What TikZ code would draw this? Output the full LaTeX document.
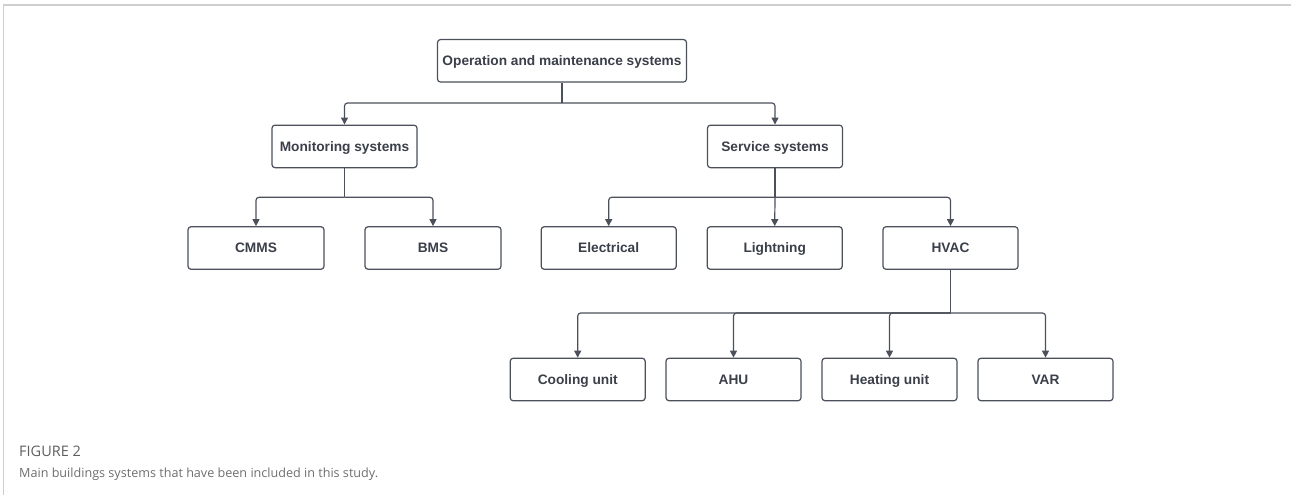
\documentclass[tikz,border=0pt]{standalone}
\usepackage{fontspec}
\setmainfont{Liberation Sans}
\newfontfamily\capfont{Open Sans}
\usetikzlibrary{arrows.meta}
\definecolor{boxline}{HTML}{4B505B}
\definecolor{boxtext}{HTML}{3A3F4A}
\definecolor{capgray}{HTML}{6E6E6E}
\definecolor{labgray}{HTML}{5E5E5E}
\definecolor{framegray}{HTML}{CFCFCF}
\tikzset{
  sysbox/.style={draw=boxline, line width=1.2pt, rounded corners=3pt, fill=white,
    text=boxtext, font=\fontsize{13.7}{16}\selectfont\bfseries,
    minimum height=42.5pt, inner sep=0pt, align=center,
    text height=9.9pt, text depth=0pt},
  link/.style={draw=boxline, line width=1.2pt, rounded corners=3pt,
    -{Triangle[length=7pt,width=7pt]}},
  trunk/.style={draw=boxline, line width=1.2pt, rounded corners=3pt}
}
\begin{document}
\begin{tikzpicture}[x=1pt,y=-1pt]
\useasboundingbox (0,0) rectangle (1291,495);
% frame
\draw[framegray, line width=1.5pt] (3,5) -- (1291,5);
\draw[framegray, line width=0.8pt] (3,5) -- (3,495);
% nodes
\node[sysbox, minimum width=249pt] (om) at (562,60.8) {Operation and maintenance systems};
\node[sysbox, minimum width=145pt] (mon) at (344.5,146.4) {Monitoring systems};
\node[sysbox, minimum width=135pt] (ser) at (775,146.4) {Service systems};
\node[sysbox, minimum width=136pt] (cmms) at (256,248) {CMMS};
\node[sysbox, minimum width=136pt] (bms) at (433,248) {BMS};
\node[sysbox, minimum width=135pt] (ele) at (608.7,248) {Electrical};
\node[sysbox, minimum width=135pt] (lig) at (774.7,248) {Lightning};
\node[sysbox, minimum width=135pt] (hvac) at (950.5,248) {HVAC};
\node[sysbox, minimum width=135pt] (cool) at (577.7,379.5) {Cooling unit};
\node[sysbox, minimum width=135pt] (ahu) at (733.5,379.5) {AHU};
\node[sysbox, minimum width=135pt] (heat) at (889.5,379.5) {Heating unit};
\node[sysbox, minimum width=135pt] (var) at (1045.5,379.5) {VAR};
% junction coordinates
\coordinate (j1) at (562,103);
\coordinate (j2) at (344.5,197.3);
\coordinate (j3) at (775,197.3);
\coordinate (j4) at (950.5,313);
% connectors
\draw[trunk] (om.south) -- (j1);
\draw[link] (j1) -| (mon.north);
\draw[link] (j1) -| (ser.north);
\draw[trunk] (mon.south) -- (j2);
\draw[link] (j2) -| (cmms.north);
\draw[link] (j2) -| (bms.north);
\draw[trunk] (ser.south) -- (j3);
\draw[link] (j3) -| (ele.north);
\draw[link] (j3) -- (lig.north);
\draw[link] (j3) -| (hvac.north);
\draw[trunk] (hvac.south) -- (j4);
\draw[link] (j4) -| (cool.north);
\draw[link] (j4) -| (ahu.north);
\draw[link] (j4) -| (heat.north);
\draw[link] (j4) -| (var.north);
% caption
\node[anchor=base west, inner sep=0pt, text=labgray, font=\capfont\fontsize{14.5}{17}\selectfont] (figlab) at (19,456) {FIGURE 2};
\node[anchor=base west, inner sep=0pt, text=capgray, font=\capfont\fontsize{12.6}{15}\selectfont] (cap) at (19,477) {Main buildings systems that have been included in this study.};
\end{tikzpicture}
\end{document}
